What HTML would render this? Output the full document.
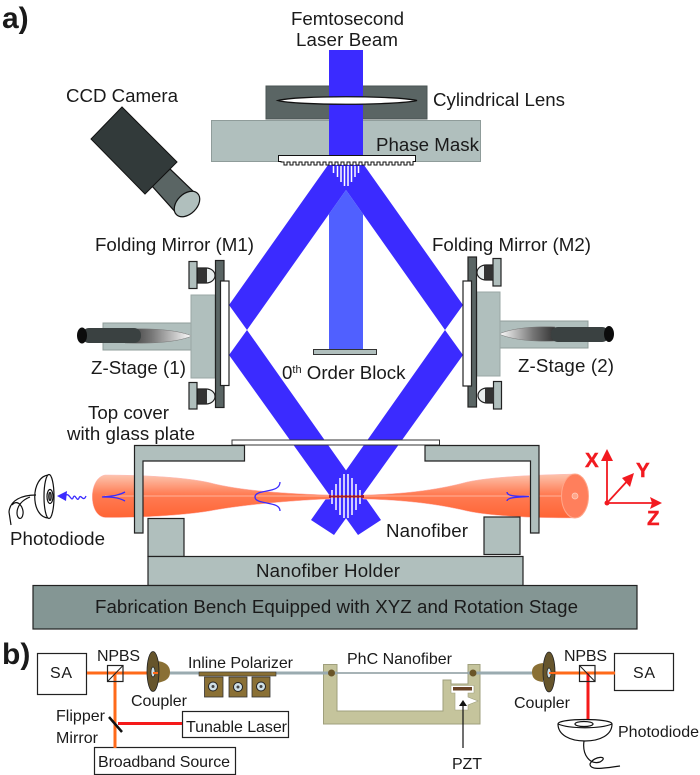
<!DOCTYPE html>
<html><head><meta charset="utf-8"><style>
html,body{margin:0;padding:0;background:#fff}
svg{display:block}
text{font-family:"Liberation Sans",sans-serif;fill:#1a1a1a;font-size:18.7px}
.s{font-size:16px}
</style></head><body>
<svg width="700" height="775" viewBox="0 0 700 775" xmlns="http://www.w3.org/2000/svg">
<defs>
<linearGradient id="f" x1="0" y1="0" x2="0" y2="1"><stop offset="0" stop-color="#fcc4ae"/><stop offset=".45" stop-color="#ff7d55"/><stop offset="1" stop-color="#ff6535"/></linearGradient>
<linearGradient id="t1" x1="0" x2="1"><stop offset="0" stop-color="#333"/><stop offset=".4" stop-color="#777"/><stop offset="1" stop-color="#fff"/></linearGradient>
<linearGradient id="t2" x1="1" x2="0"><stop offset="0" stop-color="#333"/><stop offset=".4" stop-color="#777"/><stop offset="1" stop-color="#fff"/></linearGradient>
</defs>

<text x="2" y="28" style="font-size:30px;font-weight:bold" fill="#111">a)</text>
<text x="2" y="664" style="font-size:30px;font-weight:bold">b)</text>

<!-- lens and mask -->
<rect x="266" y="86" width="161" height="33" fill="#5a6564" stroke="#4a5453"/>
<rect x="211.500" y="120.500" width="269" height="41" fill="#b0bfbd" stroke="#8f9c9a"/>

<!-- arms -->
<g fill="#3b2bff">
<polygon points="328,165 364,165 463,305 445,330 346,190 247,330 229,305"/>
<polygon points="229,355 247,330 381,520 358,535"/>
<polygon points="463,355 445,330 311,520 334,535"/>
</g>
<polygon points="346,190 363,214 363,349 329,349 329,214" fill="#5060ff"/>
<rect x="329" y="50" width="34" height="106" fill="#3b2bff"/>
<path d="M278 100.500 C296 95.500 395 95.500 417 100.500 C395 105.500 296 105.500 278 100.500Z" fill="#fff" stroke="#111" stroke-width="1.300"/>
<rect x="313.500" y="349.500" width="63" height="5" fill="#b0bfbd" stroke="#333"/>

<!-- grating -->
<path d="M278.500 155.500 H415.500 V161.500 H413 V165 H410 V162 H407 V165 H404 V162 H401 V165 H398 V162 H395 V165 H392 V162 H389 V165 H386 V162 H383 V165 H380 V162 H377 V165 H374 V162 H371 V165 H368 V162 H365 V165 H362 V162 H359 V165 H356 V162 H353 V165 H350 V162 H347 V165 H344 V162 H341 V165 H338 V162 H335 V165 H332 V162 H329 V165 H326 V162 H323 V165 H320 V162 H317 V165 H314 V162 H311 V165 H308 V162 H305 V165 H302 V162 H299 V165 H296 V162 H293 V165 H290 V162 H287 V165 H284 V162 H281 V161.500 H278.500Z" fill="#fff" stroke="#111" stroke-width="1"/>
<g stroke="#fff" stroke-width="1.500">
<path d="M333.500 166V173M337.500 166V177M341 166V182M344.500 166V186M348 166V186M351.500 166V182M355 166V177M358.500 166V173"/>
</g>

<!-- camera -->
<polygon points="152,186 170,169 197,195 178,215" fill="#5a6564" stroke="#111" stroke-width="1.200"/>
<ellipse cx="187" cy="204" rx="15" ry="10" transform="rotate(-45 187 204)" fill="#b0bfbd" stroke="#111" stroke-width="1.200"/>
<polygon points="122,107 91,139 145,194 177,162" fill="#323a3a" stroke="#111"/>

<!-- left stage -->
<rect x="103" y="323" width="90" height="27" fill="#b0bfbd" stroke="#8f9c9a"/>
<path d="M125 329 C160 328 180 331 192 336 C180 341 160 344 125 343Z" fill="url(#t1)" stroke="#777" stroke-width=".5"/>
<rect x="82" y="328" width="59" height="15" rx="7" fill="#3a4141"/>
<ellipse cx="82" cy="335.500" rx="5" ry="8" fill="#0c0c0c"/>
<rect x="191" y="295" width="24" height="83" fill="#b0bfbd" stroke="#9aa7a5"/>
<g stroke="#222" stroke-width="1.200">
<rect x="215.500" y="260.500" width="8.500" height="147" fill="#5a6564"/>
<rect x="220.500" y="281" width="8.500" height="104.500" fill="#fff"/>
<rect x="189" y="261.500" width="8" height="27" fill="#b0bfbd"/>
<rect x="189" y="382.500" width="8" height="26.500" fill="#b0bfbd"/>
<path d="M198 268 H206 A9 7.500 0 0 1 206 283 H198Z" fill="#e8eded"/>
<path d="M198 389 H206 A9 7.500 0 0 1 206 404 H198Z" fill="#e8eded"/>
</g>
<rect x="198" y="268.500" width="9" height="14" fill="#333"/>
<rect x="198" y="389.500" width="9" height="14" fill="#333"/>

<!-- right stage -->
<rect x="499" y="321" width="89" height="27" fill="#b0bfbd" stroke="#8f9c9a"/>
<path d="M555 327 C530 326 510 329 499 334 C510 339 530 342 555 341Z" fill="url(#t2)" stroke="#777" stroke-width=".5"/>
<rect x="551" y="327" width="58" height="15" rx="7" fill="#3a4141"/>
<ellipse cx="609" cy="334" rx="5" ry="8" fill="#0c0c0c"/>
<rect x="477" y="292" width="23" height="84" fill="#b0bfbd" stroke="#9aa7a5"/>
<g stroke="#222" stroke-width="1.200">
<rect x="468" y="257" width="8.500" height="150" fill="#5a6564"/>
<rect x="463" y="281" width="8.500" height="105" fill="#fff"/>
<rect x="493" y="258.500" width="8" height="27.500" fill="#b0bfbd"/>
<rect x="493.500" y="381.500" width="8" height="27.500" fill="#b0bfbd"/>
<path d="M492 265 H486 A9 7.500 0 0 0 486 280 H492Z" fill="#e8eded"/>
<path d="M493 388 H487 A9 7.500 0 0 0 487 403 H493Z" fill="#e8eded"/>
</g>
<rect x="484" y="265.500" width="9" height="14" fill="#333"/>
<rect x="485" y="388.500" width="9" height="14" fill="#333"/>

<!-- fiber -->
<path d="M105 475 C140 475 190 477 215 484 C250 492 300 494 330 495 L330 499 C300 500 250 504 215 510 C190 515 140 518 105 517.500 C88 516 88 478 105 475Z" fill="url(#f)" stroke="#fbb" stroke-width=".5"/>
<path d="M363 495 C400 494 433 491 467 482 C490 477 530 475 575 474 L575 518 C530 518 490 516 467 511 C433 503 400 500 363 499Z" fill="url(#f)" stroke="#fbb" stroke-width=".5"/>
<ellipse cx="575" cy="496" rx="13.500" ry="22" fill="#ff7f5c" stroke="#ffa68a" stroke-width="1"/>
<ellipse cx="575" cy="496" rx="3" ry="3" fill="#ffa68a" stroke="#ffd0c0" stroke-width=".7"/>
<path d="M105 496 H330 M363 496 H561" stroke="#ffb199" stroke-width="1" fill="none"/>
<rect x="329" y="495" width="35" height="3" fill="#b02030"/>
<g stroke="#fff" stroke-width="1.500">
<path d="M332 490V504M336 484V510M340 478V515M344 474V518M348 474V518M352 478V515M356 484V510M360 490V504"/>
</g>
<path d="M329 496.500H364" stroke="#9a1a30" stroke-width="1.800"/>

<g fill="none" stroke="#3b2bff" stroke-width="1.300">
<path d="M125 492 C118 496 110 496 102 497 C110 497 118 497 125 501"/>
<path d="M280 482 C280 490 270 490 262 492 C257 493 255 495 255 497 C255 499 257 501 262 502 C270 504 280 504 280 511"/>
<path d="M507 492 C507 497 520 496 529 496.500 C520 497 507 497 507 501"/>
<path d="M65 496 C69 491 71 502 73 498 C75 492 77 503 79 498 C81 493 83 503 86 496"/>
</g>
<polygon points="57,496 67,491 66,501" fill="#3b2bff"/>

<!-- cover -->
<rect x="232" y="440" width="207.500" height="5" fill="#fff" stroke="#333"/>
<g fill="#b0bfbd" stroke="#222" stroke-width="1.200">
<path d="M134.500 445.500 H244.500 V461 H143 V533 H134.500Z"/>
<path d="M425 445.500 H539 V533 H530.500 V461 H425Z"/>
<rect x="148" y="518.500" width="36" height="38"/>
<rect x="484" y="517" width="36" height="37.500"/>
<rect x="148" y="556.500" width="375" height="29"/>
<rect x="33" y="585.500" width="604" height="43.500" fill="#849694"/>
</g>

<!-- photodiode -->
<g fill="none" stroke="#111" stroke-width="1.200">
<path d="M49 475 C30 476 30 518 49 518Z" fill="#fff"/>
<ellipse cx="49" cy="496.500" rx="5" ry="22" fill="#fff"/>
<ellipse cx="50" cy="496.500" rx="3" ry="7" fill="#fff"/>
<ellipse cx="50" cy="496.500" rx="1.200" ry="4" fill="#999"/>
<path d="M36 495 C22 495 10 500 9 512 L11 525 M12 505 C18 498 24 508 23 514 C22 521 17 519 17 513 C17 506 22 500 30 497"/>
</g>

<!-- axes -->
<g stroke="#f21a20" stroke-width="1.800" fill="none"><path d="M607 503 V455 M607 503 L630 478 M607 503 H656"/></g>
<g fill="#f21a20">
<circle cx="607" cy="503" r="2.500"/>
<polygon points="607,449 601,461 613,461"/>
<polygon points="634,473 622,478 630,487"/>
<polygon points="662,503 650,497 652,503 650,509"/>
</g>
<text x="585" y="467" style="font-size:20.500px;font-weight:bold;fill:#f21a20;stroke:#f21a20;stroke-width:.4">X</text>
<text x="636" y="477" style="font-size:20.500px;font-weight:bold;fill:#f21a20;stroke:#f21a20;stroke-width:.4">Y</text>
<text x="647" y="525" style="font-size:20.500px;font-weight:bold;fill:#f21a20;stroke:#f21a20;stroke-width:.4">Z</text>

<!-- part b -->
<rect x="37.500" y="653.500" width="49" height="41" fill="#fff" stroke="#222" stroke-width="1.200"/>
<rect x="614.500" y="653.500" width="59" height="37" fill="#fff" stroke="#222" stroke-width="1.200"/>
<rect x="182.500" y="711.500" width="106" height="26" fill="#fff" stroke="#222" stroke-width="1.200"/>
<rect x="94.500" y="747.500" width="141" height="27" fill="#fff" stroke="#222" stroke-width="1.200"/>

<path d="M87 673 H153 M115 673 V748 M549 673 H615" stroke="#ff6a1a" stroke-width="3" fill="none"/>
<path d="M118 723.500 H182 M588 673 V722" stroke="#f51a1a" stroke-width="3" fill="none"/>
<rect x="107.500" y="665.500" width="15.500" height="16" fill="none" stroke="#222" stroke-width="1.200"/>
<path d="M107.500 681.500 L123 665.500" stroke="#222"/>
<rect x="579.500" y="665.500" width="15.500" height="16" fill="none" stroke="#222" stroke-width="1.200"/>
<path d="M579.500 665.500 L595 681.500" stroke="#222"/>
<path d="M109 717 L122 732" stroke="#111" stroke-width="2.500"/>

<path d="M157 661 C168 662 170 668 170 672 C170 677 168 681 157 683Z" fill="#8a7035"/>
<ellipse cx="153" cy="671.500" rx="6" ry="20" fill="#66552c" stroke="#222" stroke-width=".8"/>
<ellipse cx="153" cy="672" rx="2" ry="5" fill="#cfe0e6" stroke="#222" stroke-width=".7"/>
<path d="M153 673 H158" stroke="#ff6a1a" stroke-width="2"/>
<path d="M543 663 C534 664 532 668 532 672 C532 677 534 681 543 682Z" fill="#8a7035"/>
<ellipse cx="549" cy="672" rx="6" ry="20" fill="#66552c" stroke="#222" stroke-width=".8"/>
<ellipse cx="549" cy="673" rx="2" ry="5" fill="#cfe0e6" stroke="#222" stroke-width=".7"/>
<path d="M549 673 H556" stroke="#ff6a1a" stroke-width="2"/>

<path d="M323.500 664.500 H337 V711 H443 V680 H451 V684 H468 V664.500 H480 V724 H323.500Z" fill="#c5c49c" stroke="#9f9f7c"/>
<path d="M451 685.500 H474 V693 H468 V697 L478 701 L468 705 V710 H455 V693 H451Z" fill="#fff" stroke="#9f9f7c" stroke-width=".6"/>
<path d="M170 673 H337 M468 673 H532" stroke="#9aabb0" stroke-width="3" fill="none"/>
<path d="M337 673 H468" stroke="#8a9a9e" stroke-width="1.500"/>

<rect x="199" y="672" width="77" height="4" fill="#8a7035" stroke="#333" stroke-width=".6"/>
<g fill="#8a7035" stroke="#333" stroke-width=".8">
<rect x="204.500" y="677" width="18.500" height="20"/>
<rect x="229" y="677" width="18" height="20"/>
<rect x="252" y="677" width="18" height="20"/>
</g>
<g fill="#cfe0e6" stroke="#222"><circle cx="213" cy="686.500" r="4.500"/><circle cx="238" cy="687" r="4.500"/><circle cx="261" cy="686.500" r="4.500"/></g>
<g fill="#444"><circle cx="213" cy="686.500" r="1.500"/><circle cx="238" cy="687" r="1.500"/><circle cx="261" cy="686.500" r="1.500"/></g>

<rect x="453" y="687" width="19" height="3.500" fill="#6a4326"/>
<circle cx="331.500" cy="673" r="3.500" fill="#6a5528"/>
<circle cx="473" cy="673" r="3.500" fill="#6a5528"/>
<path d="M463 748 V704" stroke="#111" stroke-width="1.200"/>
<polygon points="463,700 459,706 467,706" fill="#111"/>

<g fill="none" stroke="#111" stroke-width="1.200">
<path d="M558 724 C558 718 612 718 612 724 C612 735 600 741 585 741 C570 741 558 735 558 724Z" fill="#fff"/>
<ellipse cx="584" cy="724" rx="9" ry="2.500"/>
<path d="M558 724 C570 729 600 729 612 724"/>
<path d="M584 741 C582 755 590 765 600 762 C610 756 594 755 590 764 C590 770 600 769 620 766"/>
</g>

<!-- labels -->
<text x="291" y="25" textLength="113">Femtosecond</text>
<text x="296" y="46" textLength="102">Laser Beam</text>
<text x="66" y="102" textLength="112">CCD Camera</text>
<text x="433" y="106" textLength="132">Cylindrical Lens</text>
<text x="376" y="151" textLength="103">Phase Mask</text>
<text x="95" y="251" textLength="159">Folding Mirror (M1)</text>
<text x="432" y="251" textLength="159">Folding Mirror (M2)</text>
<text x="91" y="374" textLength="95">Z-Stage (1)</text>
<text x="518" y="372" textLength="96">Z-Stage (2)</text>
<text x="282" y="379">0<tspan dy="-6" style="font-size:11px">th</tspan><tspan dy="6"> Order Block</tspan></text>
<text x="88" y="419" textLength="81">Top cover</text>
<text x="67" y="440" textLength="128">with glass plate</text>
<text x="10" y="545" textLength="95">Photodiode</text>
<text x="386" y="537" textLength="82">Nanofiber</text>
<text x="256" y="577" textLength="144">Nanofiber Holder</text>
<text x="95" y="613" textLength="483">Fabrication Bench Equipped with XYZ and Rotation Stage</text>

<g class="s">
<text class="s" x="50" y="678" textLength="22">SA</text>
<text class="s" x="97" y="661" textLength="43">NPBS</text>
<text class="s" x="131" y="706" textLength="56">Coupler</text>
<text class="s" x="188" y="668" textLength="105">Inline Polarizer</text>
<text class="s" x="56" y="721" textLength="49">Flipper</text>
<text class="s" x="56" y="743" textLength="42">Mirror</text>
<text class="s" x="186" y="732" textLength="101">Tunable Laser</text>
<text class="s" x="98" y="767" textLength="132">Broadband Source</text>
<text class="s" x="347" y="664" textLength="105">PhC Nanofiber</text>
<text class="s" x="514" y="708" textLength="56">Coupler</text>
<text class="s" x="564" y="661" textLength="43">NPBS</text>
<text class="s" x="633" y="678" textLength="22">SA</text>
<text class="s" x="618" y="737" textLength="81">Photodiode</text>
<text class="s" x="452" y="769" textLength="30">PZT</text>
</g>
</svg>
</body></html>
